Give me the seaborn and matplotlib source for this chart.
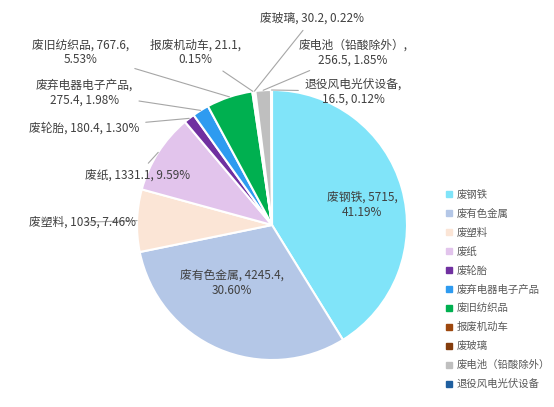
import numpy as np
import matplotlib
matplotlib.use("Agg")
import matplotlib.pyplot as plt
import seaborn as sns

sns.set_theme(style="white")
plt.rcParams['font.family'] = ['Noto Sans CJK SC', 'DejaVu Sans']

categories = ["废钢铁", "废有色金属", "废塑料", "废纸", "废轮胎", "废弃电器电子产品",
              "废旧纺织品", "报废机动车", "废玻璃", "废电池（铅酸除外）", "退役风电光伏设备"]
values = [5715, 4245.4, 1035, 1331.1, 180.4, 275.4, 767.6, 21.1, 30.2, 256.5, 16.5]
pct_labels = ["41.19%", "30.60%", "7.46%", "9.59%", "1.30%", "1.98%", "5.53%", "0.15%", "0.22%", "1.85%", "0.12%"]
val_labels = ["5715", "4245.4", "1035", "1331.1", "180.4", "275.4", "767.6", "21.1", "30.2", "256.5", "16.5"]
colors = ["#80E4F9", "#B4C7E7", "#FBE5D6", "#E2C4EC", "#7030A0", "#2E9BF0",
          "#00B050", "#9E480E", "#843C0C", "#BFBFBF", "#1F5F9F"]

label_pos = [
    (0.667, 0.148, "center", "{c}, {v},\n{p}"),
    (-0.296, -0.43, "center", "{c}, {v},\n{p}"),
    (-1.01, 0.02, "right", "{c}, {v}, {p}"),
    (-0.607, 0.37, "right", "{c}, {v}, {p}"),
    (-0.98, 0.72, "right", "{c}, {v}, {p}"),
    (-1.39, 0.98, "center", "{c},\n{v}, {p}"),
    (-1.42, 1.28, "center", "{c}, {v},\n{p}"),
    (-0.57, 1.28, "center", "{c}, {v},\n{p}"),
    (0.30, 1.53, "center", "{c}, {v}, {p}"),
    (0.60, 1.28, "center", "{c},\n{v}, {p}"),
    (0.60, 0.99, "center", "{c},\n{v}, {p}"),
]
inside = [True, True, False, False, False, False, False, False, False, False, False]

W, H = 554, 407
fig = plt.figure(figsize=(W/100, H/100), dpi=100)
cx, cy, r = 272, 225, 135
ax = fig.add_axes([(cx-r)/W, (H-cy-r)/H, 2*r/W, 2*r/H])
wedges, _ = ax.pie(values, colors=colors, startangle=90, counterclock=False,
                   wedgeprops=dict(edgecolor="white", linewidth=1.5), radius=1)
ax.set_xlim(-1, 1); ax.set_ylim(-1, 1)
ax.set_aspect("equal")
ax.axis("off")

fs = 8.5
for w, c, v, p, (lx, ly, ha, fmt), ins in zip(wedges, categories, val_labels, pct_labels, label_pos, inside):
    txt = fmt.format(c=c, v=v, p=p)
    if ins:
        ax.text(lx, ly, txt, ha=ha, va="center", fontsize=fs, color="#404040", clip_on=False)
    else:
        ang = np.deg2rad((w.theta1 + w.theta2) / 2)
        ex, ey = np.cos(ang), np.sin(ang)
        ax.annotate(txt, xy=(ex, ey), xytext=(lx, ly), ha=ha, va="center", fontsize=fs,
                    color="#404040", annotation_clip=False,
                    arrowprops=dict(arrowstyle="-", color="#A6A6A6", lw=0.8, shrinkB=0, shrinkA=2))

handles = [plt.Line2D([], [], marker="s", linestyle="", markersize=4, color=col) for col in colors]
fig.legend(handles, categories, loc="upper left", bbox_to_anchor=(435/W, 1-180/H), frameon=False,
           fontsize=7.5, labelcolor="#595959", handlelength=0.8, handletextpad=0.4, labelspacing=0.85)

fig.savefig("out.png", dpi=100)
